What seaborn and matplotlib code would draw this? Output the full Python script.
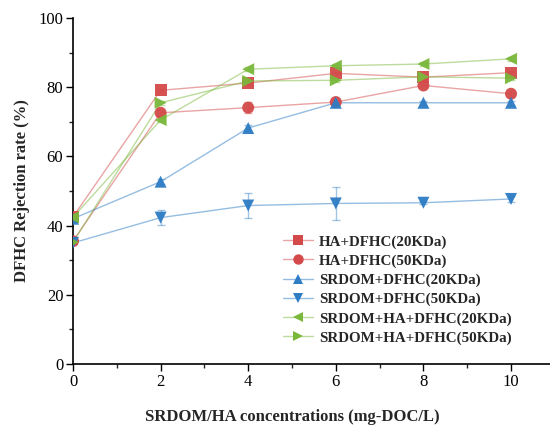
import numpy as np
import pandas as pd
import matplotlib
matplotlib.use("Agg")
import matplotlib.pyplot as plt
import seaborn as sns
from matplotlib.ticker import MultipleLocator
from matplotlib.lines import Line2D

x = [0, 2, 4, 6, 8, 10]
series_names = ["HA+DFHC(20KDa)", "HA+DFHC(50KDa)", "SRDOM+DFHC(20KDa)",
                "SRDOM+DFHC(50KDa)", "SRDOM+HA+DFHC(20KDa)", "SRDOM+HA+DFHC(50KDa)"]
ha20 = [42.5, 79.1, 81.2, 84.0, 82.9, 84.2]
ha50 = [35.5, 72.6, 74.1, 75.7, 80.5, 78.1]
sr20 = [42.0, 52.7, 68.2, 75.5, 75.5, 75.5]
sr50 = [35.0, 42.3, 45.8, 46.4, 46.6, 47.7]
sh20 = [42.4, 70.5, 85.2, 86.2, 86.7, 88.2]
sh50 = [35.2, 75.5, 81.8, 82.0, 83.0, 82.6]
err_ha20 = [0.3, 0.5, 0.5, 0.5, 0.5, 0.5]
err_ha50 = [0.3, 0.8, 1.7, 0.5, 0.5, 0.5]
err_sr20 = [0.3, 0.8, 1.0, 0.5, 0.5, 0.5]
err_sr50 = [0.3, 2.2, 3.5, 4.8, 0.5, 0.9]
err_sh20 = [0.3, 0.5, 0.5, 0.5, 0.5, 0.5]
err_sh50 = [0.3, 0.5, 0.5, 0.5, 0.5, 0.5]

values = [ha20, ha50, sr20, sr50, sh20, sh50]
errors = [err_ha20, err_ha50, err_sr20, err_sr50, err_sh20, err_sh50]

red, blue, green = "#d44a4a", "#2d7cc4", "#7ab83c"
colors = [red, red, blue, blue, green, green]
markers = ["s", "o", "^", "v", "<", ">"]

rows = []
for name, vals in zip(series_names, values):
    for xi, v in zip(x, vals):
        rows.append({"x": xi, "y": v, "series": name})
df = pd.DataFrame(rows)

sns.set_theme(style="ticks")
plt.rcParams["font.family"] = ["Liberation Serif", "DejaVu Serif"]

fig = plt.figure(figsize=(5.5, 4.26), dpi=100)
ax = fig.add_axes([73/550, 62/426, 477/550, 346/426])

palette = dict(zip(series_names, colors))
mk = dict(zip(series_names, markers))

for name, c in zip(series_names, colors):
    sub = df[df.series == name]
    sns.lineplot(data=sub, x="x", y="y", ax=ax, color=c, alpha=0.5, lw=1.0,
                 legend=False, zorder=2)
for name, vals, err, c in zip(series_names, values, errors, colors):
    ax.errorbar(x, vals, yerr=err, fmt="none", ecolor=c, alpha=0.45,
                elinewidth=1.0, capsize=3, capthick=1.0, zorder=2)
sns.scatterplot(data=df, x="x", y="y", hue="series", style="series",
                palette=palette, markers=mk, s=75, edgecolor="none",
                ax=ax, legend=False, zorder=3, alpha=0.95)

handles = []
for c, m in zip(colors, markers):
    ln = Line2D([], [], color=c, alpha=0.5, lw=1.0)
    mh = Line2D([], [], color=c, marker=m, markersize=7.5, markeredgewidth=0,
                lw=0)
    handles.append((ln, mh))
ax.legend(handles, series_names,
          loc="upper left", bbox_to_anchor=(210/477, 1 - 217/346),
          frameon=False, handlelength=2.0, handletextpad=0.4,
          labelspacing=0.37, borderaxespad=0, borderpad=0,
          prop={"family": "Liberation Serif", "weight": "bold", "size": 10.8})

ax.set_xlim(0, 10.89)
ax.set_ylim(0, 100)
ax.xaxis.set_major_locator(MultipleLocator(2))
ax.xaxis.set_minor_locator(MultipleLocator(1))
ax.yaxis.set_major_locator(MultipleLocator(20))
ax.yaxis.set_minor_locator(MultipleLocator(10))
ax.tick_params(axis="both", which="major", direction="out", length=5, width=1,
               labelsize=12, colors="black", pad=2)
ax.tick_params(axis="both", which="minor", direction="out", length=3, width=1)

sns.despine(ax=ax)
for sp in ("left", "bottom"):
    ax.spines[sp].set_linewidth(1.2)
    ax.spines[sp].set_color("black")

ax.set_xlabel("")
ax.set_ylabel("")
fig.text(292/550, 1 - 417/426, "SRDOM/HA concentrations (mg-DOC/L)",
         fontsize=12, fontweight="bold", family="Liberation Serif",
         ha="center", va="center")
fig.text(22/550, 1 - 191/426, "DFHC Rejection rate (%)", rotation=90,
         fontsize=12, fontweight="bold", family="Liberation Serif",
         ha="center", va="center")

fig.savefig("out.png", dpi=100)
